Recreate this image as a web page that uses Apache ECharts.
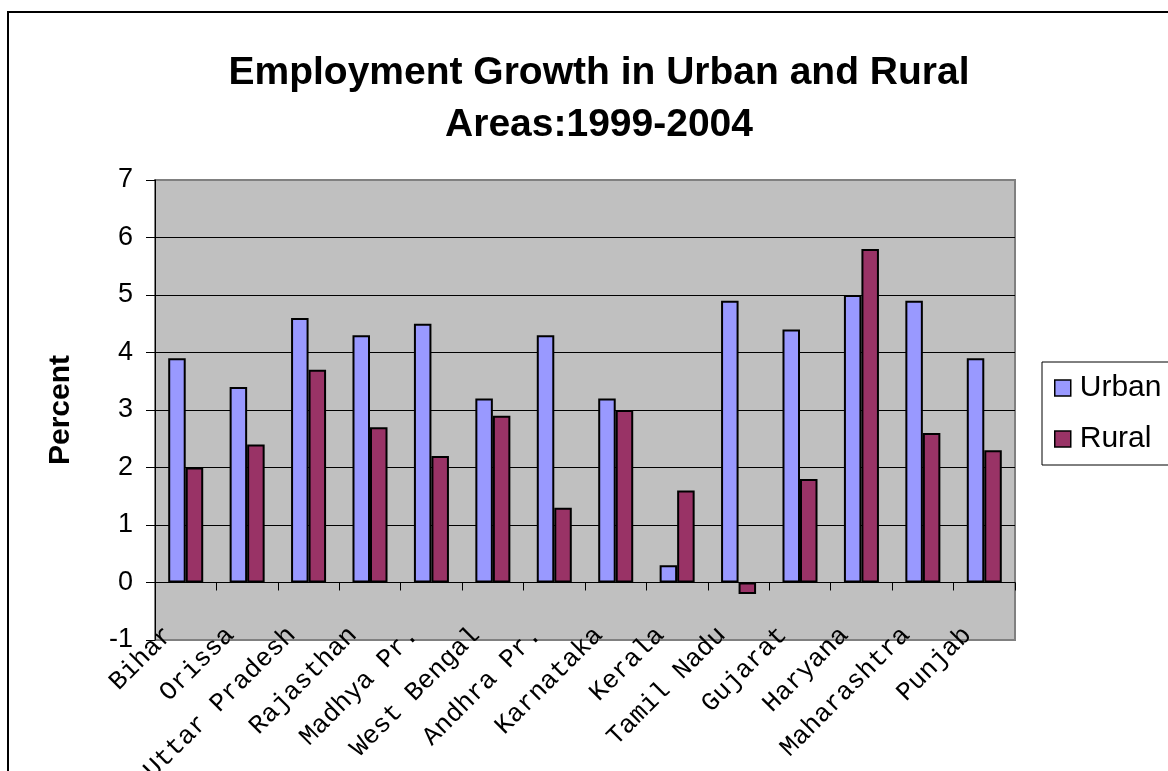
<!DOCTYPE html>
<html>
<head>
<meta charset="utf-8">
<script src="https://cdn.jsdelivr.net/npm/echarts@6/dist/echarts.min.js"></script>
<style>
html, body { margin: 0; padding: 0; background: #fff; }
#chart { width: 1168px; height: 771px; }
</style>
</head>
<body>
<div id="chart"></div>
<script>
// states along the x axis
var states = ['Bihar', 'Orissa', 'Uttar Pradesh', 'Rajasthan', 'Madhya Pr.', 'West Bengal', 'Andhra Pr.',
	'Karnataka', 'Kerala', 'Tamil Nadu', 'Gujarat', 'Haryana', 'Maharashtra', 'Punjab'];
// employment growth, percent
var urban = [3.9, 3.4, 4.6, 4.3, 4.5, 3.2, 4.3, 3.2, 0.3, 4.9, 4.4, 5.0, 4.9, 3.9];
var rural = [2.0, 2.4, 3.7, 2.7, 2.2, 2.9, 1.3, 3.0, 1.6, -0.2, 1.8, 5.8, 2.6, 2.3];
var yTicks = [-1, 0, 1, 2, 3, 4, 5, 6, 7];

var chart = echarts.init(document.getElementById('chart'));

var option = {
	backgroundColor: '#fff',
	animation: false,
	title: {
		text: 'Employment Growth in Urban and Rural\nAreas:1999-2004',
		left: 594,
		textAlign: 'center',
		top: 42,
		textStyle: {
			fontFamily: 'Liberation Sans, Arial',
			fontWeight: 'bold',
			fontSize: 39,
			lineHeight: 52,
			color: '#000'
		}
	},
	graphic: [{
		type: 'rect',
		shape: { x: 8, y: 12, width: 1400, height: 1000 },
		style: { fill: 'none', stroke: '#000', lineWidth: 2 },
		silent: true
	}],
	legend: {
		orient: 'vertical',
		left: 1042,
		top: 362,
		data: ['Urban', 'Rural'],
		icon: 'rect',
		itemWidth: 16,
		itemHeight: 16,
		itemGap: 21,
		padding: [11, 60, 11, 12],
		borderColor: '#000',
		borderWidth: 1,
		textStyle: { fontFamily: 'Liberation Sans, Arial', fontSize: 30, color: '#000', padding: [0, 0, 0, 4] },
		itemStyle: { borderColor: '#000', borderWidth: 1.5 }
	},
	grid: {
		left: 155,
		top: 180,
		right: 153,
		bottom: 131,
		containLabel: false,
		outerBoundsMode: 'none',
		show: true,
		backgroundColor: '#C0C0C0',
		borderColor: '#808080',
		borderWidth: 2
	},
	xAxis: {
		type: 'category',
		data: states,
		axisLine: { show: true, onZero: true, lineStyle: { color: '#000', width: 1 } },
		axisTick: { show: true, length: 8, lineStyle: { color: '#000' } },
		axisLabel: {
			interval: 0,
			rotate: 45,
			margin: -26,
			padding: [0, 24, 0, 0],
			fontFamily: 'Liberation Mono, Courier New',
			fontSize: 26,
			color: '#000'
		}
	},
	yAxis: {
		type: 'value',
		min: -1,
		max: 7,
		interval: 1,
		name: 'Percent',
		nameLocation: 'middle',
		nameGap: 79,
		nameTextStyle: { fontFamily: 'Liberation Sans, Arial', fontWeight: 'bold', fontSize: 30, color: '#000' },
		axisLine: { show: true, lineStyle: { color: '#000', width: 1 } },
		axisTick: { show: true, length: 9, lineStyle: { color: '#000' } },
		axisLabel: {
			margin: 22,
			fontFamily: 'Liberation Sans, Arial',
			fontSize: 27,
			color: '#000',
			formatter: function (v) { return yTicks.indexOf(v) >= 0 ? String(v) : ''; }
		},
		splitLine: {
			show: true,
			lineStyle: { color: ['#808080', '#000', '#000', '#000', '#000', '#000', '#000', '#000', '#808080'], width: 1 }
		}
	},
	series: [
		{
			name: 'Urban',
			type: 'bar',
			data: urban,
			barGap: '0%',
			barCategoryGap: '43%',
			itemStyle: { color: '#9999FF', borderColor: '#000', borderWidth: 2 }
		},
		{
			name: 'Rural',
			type: 'bar',
			data: rural,
			itemStyle: { color: '#993366', borderColor: '#000', borderWidth: 2 }
		}
	]
};
chart.setOption(option);
</script>
</body>
</html>
